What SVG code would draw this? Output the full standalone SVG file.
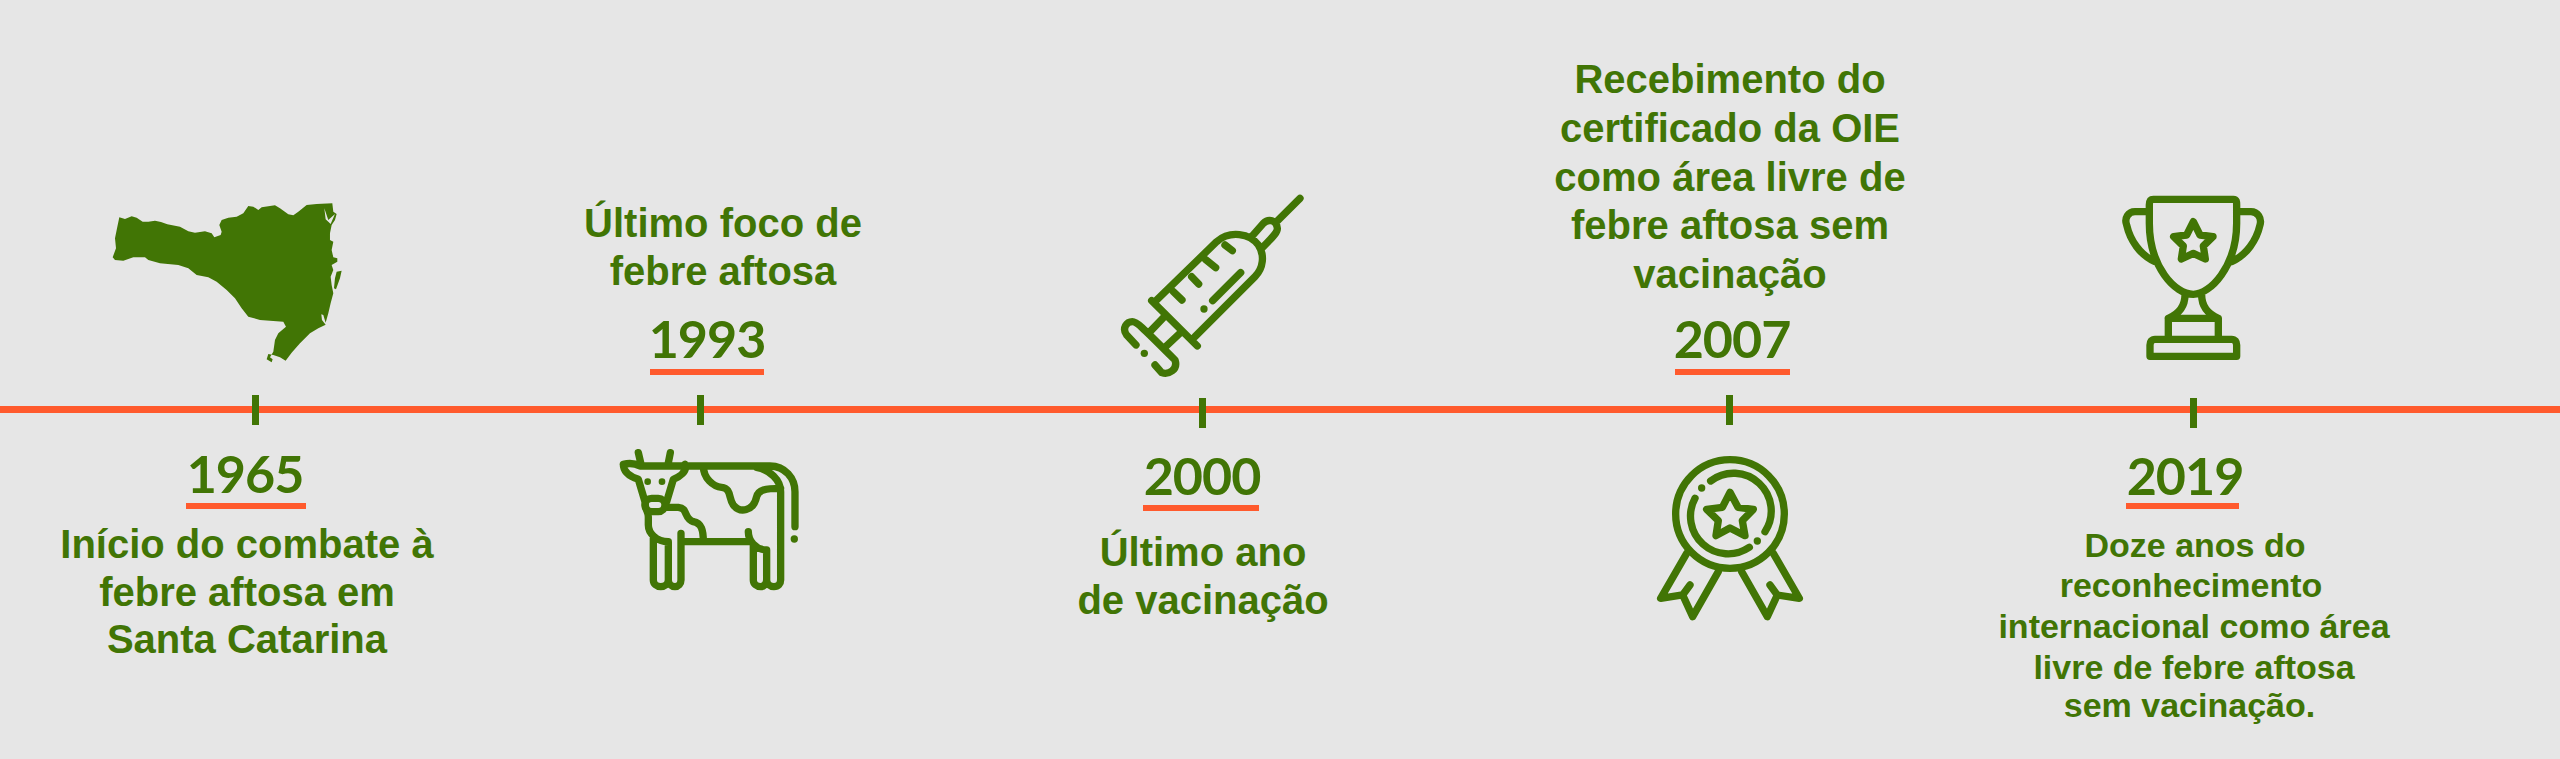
<svg xmlns="http://www.w3.org/2000/svg" width="2560" height="759" viewBox="0 0 2560 759">
<style>
.b{font-family:"Liberation Sans",Arial,sans-serif;font-weight:700;font-size:40px;fill:#417505;text-anchor:middle}
.s{font-size:34px}
.y{font-family:Lato,"Noto Sans",sans-serif;font-weight:700;font-size:52px;letter-spacing:-1px;fill:#417505;text-anchor:middle}
.t{fill:#417505}
.u{fill:#ff5a2d}
.i{fill:none;stroke:#417505;stroke-width:22;stroke-linecap:round;stroke-linejoin:round}
.d{fill:#417505}
</style>
<rect width="2560" height="759" fill="#e6e6e6"/>
<g id="connectors">
<rect x="0" y="406" width="2560" height="7" class="u"/>
</g>
<g id="n1965">
<rect x="252" y="395" width="7" height="30" class="t"/>
<text x="245" y="493" class="y">1965</text>
<rect x="186" y="503" width="120" height="6" class="u"/>
<text x="247" y="558" class="b">Início do combate à</text>
<text x="247" y="606" class="b">febre aftosa em</text>
<text x="247" y="653" class="b">Santa Catarina</text>
<path transform="translate(80,170) scale(.3333)" class="d" fill-rule="evenodd" d="M118,142 135,147 155,139 170,143 188,155 205,155 225,152 243,156 262,163 300,170 325,184 345,188 375,184 395,190 403,202 422,195 425,185 418,165 425,150 445,143 470,140 490,130 505,108 520,110 535,120 545,112 585,106 600,115 625,133 640,136 655,125 680,105 710,102 757,100 760,125 770,132 765,150 755,165 750,190 750,210 760,215 755,240 760,262 772,265 772,275 755,285 760,300 752,320 755,345 760,370 752,400 745,430 737,458 730,435 724,433 726,450 737,464 715,475 690,490 660,520 635,548 617,572 600,562 580,555 565,552 560,568 575,577 578,568 570,562 580,545 585,510 595,490 618,470 610,455 570,452 540,450 505,440 485,415 465,385 440,360 410,335 385,322 350,315 325,295 295,285 240,280 205,270 195,262 160,262 130,272 105,270 98,262 108,235 105,205 112,170Z M733,115 737,148 752,162 765,132 745,150Z M770,305 785,302 780,325 768,358 762,355 765,325Z"/>
</g>
<g id="n1993">
<rect x="697" y="395" width="7" height="30" class="t"/>
<text x="723" y="237" class="b">Último foco de</text>
<text x="723" y="285" class="b">febre aftosa</text>
<text x="707" y="358" class="y">1993</text>
<rect x="650" y="369" width="114" height="6" class="u"/>
<g transform="translate(600,430) scale(.3333)">
<path class="i" d="M115,68 122,98M211,68 205,98M70,103C90,98 105,100 120,108H510C555,108 585,145 585,185V290M255,103C262,125 240,140 220,148L200,215M70,103C70,125 90,140 115,148L135,215C135,240 145,245 145,260V285C145,310 170,335 205,335V450C205,462 195,470 182,470 170,470 160,462 160,450V325M205,450C205,462 215,470 225,470 235,470 243,462 243,450V310M243,335H445M445,305C445,330 465,360 500,360V450C500,462 490,470 482,470 470,470 460,462 460,450V345M500,450C500,462 510,470 522,470 535,470 542,462 542,450V185C542,150 510,120 470,112M310,108C310,145 340,170 365,172 395,175 385,205 400,225 420,250 460,245 470,200 475,180 495,175 542,175M195,232H235C265,235 250,265 280,275 305,280 310,300 310,335"/>
<rect x="135" y="205" width="60" height="40" rx="20" class="i"/>
<circle cx="143" cy="155" r="10" class="d"/><circle cx="186" cy="155" r="10" class="d"/><circle cx="583" cy="327" r="11" class="d"/>
</g>
</g>
<g id="n2000">
<rect x="1199" y="398" width="7" height="30" class="t"/>
<text x="1202" y="495" class="y">2000</text>
<rect x="1143" y="505" width="116" height="6" class="u"/>
<text x="1203" y="566" class="b">Último ano</text>
<text x="1203" y="614" class="b">de vacinação</text>
<g transform="translate(1100,180) scale(.3333)">
<path class="i" d="M600,55 530,125M455,170 490,130C505,115 530,120 532,145 533,155 525,165 487,203M165,365 350,185C390,150 450,160 475,195 495,225 490,265 465,290L285,470M155,362 292,498M375,195 397,212M318,240 347,263M275,290 296,312M220,335 246,360M338,362 422,278M195,408 150,455M245,455 197,500M108,495 80,465C65,445 80,425 97,425 110,425 120,435 225,540 235,570 205,585 185,578L165,555"/>
<circle cx="312" cy="387" r="11" class="d"/><circle cx="133" cy="520" r="11" class="d"/>
</g>
</g>
<g id="n2007">
<rect x="1726" y="395" width="7" height="30" class="t"/>
<text x="1730" y="93" class="b">Recebimento do</text>
<text x="1730" y="142" class="b">certificado da OIE</text>
<text x="1730" y="191" class="b">como área livre de</text>
<text x="1730" y="239" class="b">febre aftosa sem</text>
<text x="1730" y="288" class="b">vacinação</text>
<text x="1732" y="358" class="y">2007</text>
<rect x="1675" y="369" width="115" height="6" class="u"/>
<g transform="translate(1640,440) scale(.3333)">
<circle cx="270" cy="222" r="163" class="i"/>
<path class="i" d="M212,123A113,113 0 0 1 375,275M165,175A113,113 0 0 0 328,322M270,157 294,202 340,208 307,242 315,287 270,264 228,287 235,242 200,208 247,202ZM140,340 62,475 128,465 158,530 235,395M128,465 150,435M400,340 478,475 412,465 382,530 305,395M412,465 390,435"/>
<circle cx="185" cy="144" r="11" class="d"/><circle cx="352" cy="303" r="11" class="d"/>
</g>
</g>
<g id="n2019">
<rect x="2190" y="398" width="7" height="30" class="t"/>
<text x="2185" y="495" class="y">2019</text>
<rect x="2126" y="503" width="113" height="6" class="u"/>
<text x="2195" y="557" class="b s">Doze anos do</text>
<text x="2191" y="597" class="b s">reconhecimento</text>
<text x="2194" y="638" class="b s">internacional como área</text>
<text x="2194" y="679" class="b s">livre de febre aftosa</text>
<text x="2189.5" y="717" class="b s">sem vacinação.</text>
<g transform="translate(2100,180) scale(.3333)">
<path class="i" d="M148,75C148,65 150,58 160,58H400C410,58 410,65 410,75V130C410,260 330,343 280,343 225,343 148,260 148,130ZM148,95H105C85,95 72,115 80,135 90,180 120,225 165,245M410,95H453C473,95 486,115 480,135 470,180 440,225 395,245M255,345C255,375 240,400 205,415H355C320,400 305,375 305,345M205,415V478M355,415V478M165,478H395C405,478 410,485 410,495V529H150V495C150,485 155,478 165,478ZM280,125 300,165 339,170 310,198 316,237 280,220 244,237 250,198 221,170 260,165Z"/>
</g>
</g>
</svg>
